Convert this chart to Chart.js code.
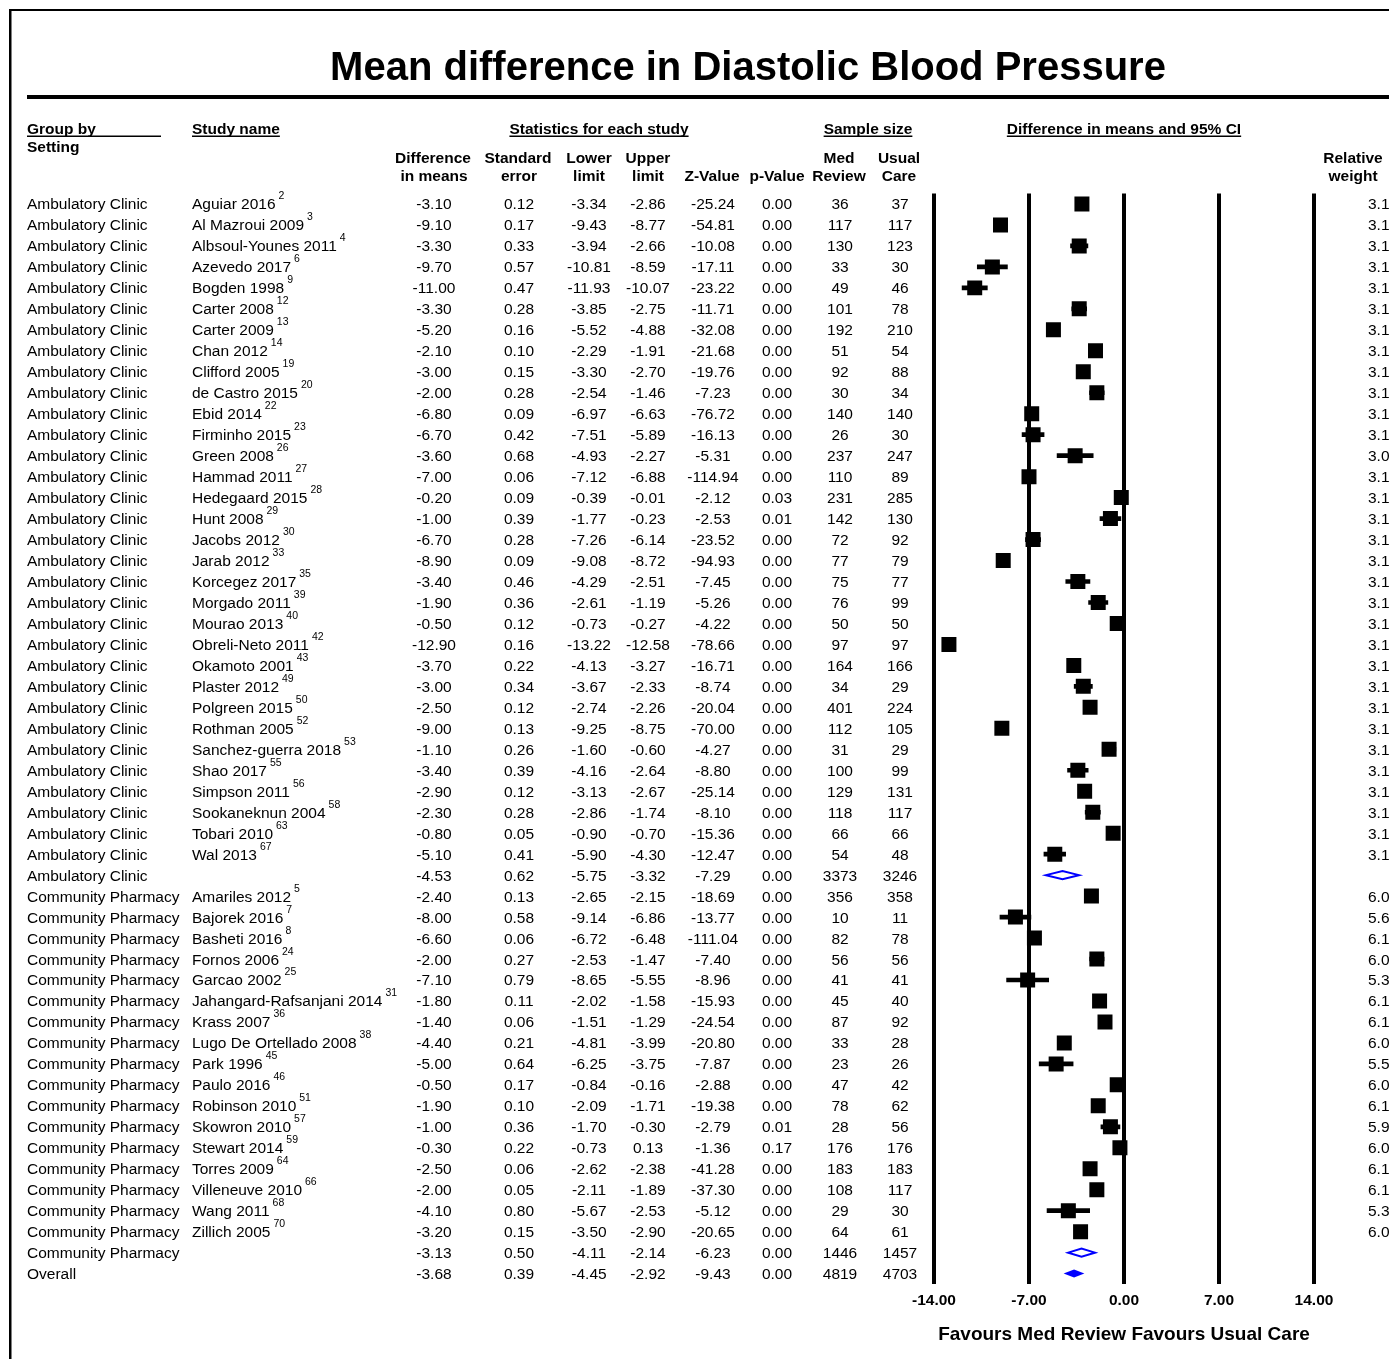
<!DOCTYPE html>
<html>
<head>
<meta charset="utf-8">
<title>Mean difference in Diastolic Blood Pressure</title>
<script src="https://cdn.jsdelivr.net/npm/chart.js@4.4.1/dist/chart.umd.min.js"></script>
<style>
  html, body { margin: 0; padding: 0; background: #fff; }
  canvas { display: block; }
</style>
</head>
<body>
<canvas id="forest" width="1389" height="1359"></canvas>
<script>
const FONT = '"Liberation Sans", Arial, Helvetica, sans-serif';

const groupNames = [
  ...Array(33).fill('Ambulatory Clinic'),
  ...Array(18).fill('Community Pharmacy'),
  'Overall'
];
const studyNames = [
  'Aguiar 2016', 'Al Mazroui 2009', 'Albsoul-Younes 2011', 'Azevedo 2017', 'Bogden 1998',
  'Carter 2008', 'Carter 2009', 'Chan 2012', 'Clifford 2005', 'de Castro 2015', 'Ebid 2014',
  'Firminho 2015', 'Green 2008', 'Hammad 2011', 'Hedegaard 2015', 'Hunt 2008', 'Jacobs 2012',
  'Jarab 2012', 'Korcegez 2017', 'Morgado 2011', 'Mourao 2013', 'Obreli-Neto 2011',
  'Okamoto 2001', 'Plaster 2012', 'Polgreen 2015', 'Rothman 2005', 'Sanchez-guerra 2018',
  'Shao 2017', 'Simpson 2011', 'Sookaneknun 2004', 'Tobari 2010', 'Wal 2013', '',
  'Amariles 2012', 'Bajorek 2016', 'Basheti 2016', 'Fornos 2006', 'Garcao 2002',
  'Jahangard-Rafsanjani 2014', 'Krass 2007', 'Lugo De Ortellado 2008', 'Park 1996',
  'Paulo 2016', 'Robinson 2010', 'Skowron 2010', 'Stewart 2014', 'Torres 2009',
  'Villeneuve 2010', 'Wang 2011', 'Zillich 2005', '', ''
];
const refNumbers = [
  '2', '3', '4', '6', '9', '12', '13', '14', '19', '20', '22', '23', '26', '27', '28', '29',
  '30', '33', '35', '39', '40', '42', '43', '49', '50', '52', '53', '55', '56', '58', '63', '67', '',
  '5', '7', '8', '24', '25', '31', '36', '38', '45', '46', '51', '57', '59', '64', '66', '68', '70', '', ''
];
// 'study' rows get a square + CI line, 'subtotal' a hollow diamond, 'overall' a filled diamond
const rowKinds = studyNames.map((s, i) => s ? 'study' : (i === studyNames.length - 1 ? 'overall' : 'subtotal'));

const diffs = [
  -3.10, -9.10, -3.30, -9.70, -11.00, -3.30, -5.20, -2.10, -3.00, -2.00, -6.80, -6.70, -3.60,
  -7.00, -0.20, -1.00, -6.70, -8.90, -3.40, -1.90, -0.50, -12.90, -3.70, -3.00, -2.50, -9.00,
  -1.10, -3.40, -2.90, -2.30, -0.80, -5.10, -4.53,
  -2.40, -8.00, -6.60, -2.00, -7.10, -1.80, -1.40, -4.40, -5.00, -0.50, -1.90, -1.00, -0.30,
  -2.50, -2.00, -4.10, -3.20, -3.13, -3.68
];
const stdErrs = [
  0.12, 0.17, 0.33, 0.57, 0.47, 0.28, 0.16, 0.10, 0.15, 0.28, 0.09, 0.42, 0.68, 0.06, 0.09,
  0.39, 0.28, 0.09, 0.46, 0.36, 0.12, 0.16, 0.22, 0.34, 0.12, 0.13, 0.26, 0.39, 0.12, 0.28,
  0.05, 0.41, 0.62,
  0.13, 0.58, 0.06, 0.27, 0.79, 0.11, 0.06, 0.21, 0.64, 0.17, 0.10, 0.36, 0.22, 0.06, 0.05,
  0.80, 0.15, 0.50, 0.39
];
const lowers = [
  -3.34, -9.43, -3.94, -10.81, -11.93, -3.85, -5.52, -2.29, -3.30, -2.54, -6.97, -7.51, -4.93,
  -7.12, -0.39, -1.77, -7.26, -9.08, -4.29, -2.61, -0.73, -13.22, -4.13, -3.67, -2.74, -9.25,
  -1.60, -4.16, -3.13, -2.86, -0.90, -5.90, -5.75,
  -2.65, -9.14, -6.72, -2.53, -8.65, -2.02, -1.51, -4.81, -6.25, -0.84, -2.09, -1.70, -0.73,
  -2.62, -2.11, -5.67, -3.50, -4.11, -4.45
];
const uppers = [
  -2.86, -8.77, -2.66, -8.59, -10.07, -2.75, -4.88, -1.91, -2.70, -1.46, -6.63, -5.89, -2.27,
  -6.88, -0.01, -0.23, -6.14, -8.72, -2.51, -1.19, -0.27, -12.58, -3.27, -2.33, -2.26, -8.75,
  -0.60, -2.64, -2.67, -1.74, -0.70, -4.30, -3.32,
  -2.15, -6.86, -6.48, -1.47, -5.55, -1.58, -1.29, -3.99, -3.75, -0.16, -1.71, -0.30, 0.13,
  -2.38, -1.89, -2.53, -2.90, -2.14, -2.92
];
const zValues = [
  -25.24, -54.81, -10.08, -17.11, -23.22, -11.71, -32.08, -21.68, -19.76, -7.23, -76.72, -16.13,
  -5.31, -114.94, -2.12, -2.53, -23.52, -94.93, -7.45, -5.26, -4.22, -78.66, -16.71, -8.74,
  -20.04, -70.00, -4.27, -8.80, -25.14, -8.10, -15.36, -12.47, -7.29,
  -18.69, -13.77, -111.04, -7.40, -8.96, -15.93, -24.54, -20.80, -7.87, -2.88, -19.38, -2.79,
  -1.36, -41.28, -37.30, -5.12, -20.65, -6.23, -9.43
];
const pValues = [
  0, 0, 0, 0, 0, 0, 0, 0, 0, 0, 0, 0, 0, 0, 0.03, 0.01, 0, 0, 0, 0, 0, 0, 0, 0, 0, 0, 0, 0,
  0, 0, 0, 0, 0,
  0, 0, 0, 0, 0, 0, 0, 0, 0, 0, 0, 0.01, 0.17, 0, 0, 0, 0, 0, 0
];
const medReviewN = [
  36, 117, 130, 33, 49, 101, 192, 51, 92, 30, 140, 26, 237, 110, 231, 142, 72, 77, 75, 76, 50,
  97, 164, 34, 401, 112, 31, 100, 129, 118, 66, 54, 3373,
  356, 10, 82, 56, 41, 45, 87, 33, 23, 47, 78, 28, 176, 183, 108, 29, 64, 1446, 4819
];
const usualCareN = [
  37, 117, 123, 30, 46, 78, 210, 54, 88, 34, 140, 30, 247, 89, 285, 130, 92, 79, 77, 99, 50,
  97, 166, 29, 224, 105, 29, 99, 131, 117, 66, 48, 3246,
  358, 11, 78, 56, 41, 40, 92, 28, 26, 42, 62, 56, 176, 183, 117, 30, 61, 1457, 4703
];
const weights = [
  3.1, 3.1, 3.1, 3.1, 3.1, 3.1, 3.1, 3.1, 3.1, 3.1, 3.1, 3.1, 3.0, 3.1, 3.1, 3.1, 3.1, 3.1,
  3.1, 3.1, 3.1, 3.1, 3.1, 3.1, 3.1, 3.1, 3.1, 3.1, 3.1, 3.1, 3.1, 3.1, null,
  6.0, 5.6, 6.1, 6.0, 5.3, 6.1, 6.1, 6.0, 5.5, 6.0, 6.1, 5.9, 6.0, 6.1, 6.1, 5.3, 6.0, null, null
];
const xTicks = [-14, -7, 0, 7, 14];

const rowLabels = studyNames.map((s, i) => s || groupNames[i]);

function f2(v) { return v.toFixed(2); }

const forestPlugin = {
  id: 'forestTable',
  beforeDraw(chart) {
    const ctx = chart.ctx;
    const xs = chart.scales.x;
    ctx.save();
    ctx.fillStyle = '#000';
    // frame + title rule
    ctx.fillRect(9, 9, 1380, 2);
    ctx.fillRect(9, 9, 2.5, 1350);
    ctx.fillRect(27, 95, 1362, 4);

    ctx.textBaseline = 'alphabetic';
    ctx.textAlign = 'center';
    ctx.font = `bold 40px ${FONT}`;
    ctx.fillText('Mean difference in Diastolic Blood Pressure', 748, 79.5);

    ctx.font = `bold 15.5px ${FONT}`;
    const underlined = (txt, x, y, align, endX) => {
      ctx.textAlign = align;
      ctx.fillText(txt, x, y);
      const w = ctx.measureText(txt).width;
      const x0 = align === 'center' ? x - w / 2 : x;
      ctx.fillRect(x0, y + 2, (endX || x0 + w) - x0, 1.5);
    };
    underlined('Group by', 27, 133.5, 'left', 161);
    underlined('Study name', 192, 133.5, 'left');
    underlined('Statistics for each study', 599, 133.5, 'center');
    underlined('Sample size', 868, 133.5, 'center');
    underlined('Difference in means and 95% CI', (xs.left + xs.right) / 2, 133.5, 'center');
    ctx.textAlign = 'left';
    ctx.fillText('Setting', 27, 151.5);

    ctx.textAlign = 'center';
    const head2 = [['Difference', 433], ['Standard', 518], ['Lower', 589], ['Upper', 648],
      ['Med', 839], ['Usual', 899], ['Relative', 1353]];
    const head3 = [['in means', 434], ['error', 519], ['limit', 589], ['limit', 648],
      ['Z-Value', 712], ['p-Value', 777], ['Review', 839], ['Care', 899], ['weight', 1353]];
    head2.forEach(([t, x]) => ctx.fillText(t, x, 162.5));
    head3.forEach(([t, x]) => ctx.fillText(t, x, 180.5));
    ctx.restore();
  },
  afterDatasetsDraw(chart) {
    const ctx = chart.ctx;
    const xs = chart.scales.x, ys = chart.scales.y;
    ctx.save();
    rowKinds.forEach((kind, i) => {
      if (kind === 'study') return;
      const y = ys.getPixelForValue(i);
      const xl = xs.getPixelForValue(lowers[i]);
      const xc = xs.getPixelForValue(diffs[i]);
      const xr = xs.getPixelForValue(uppers[i]);
      ctx.beginPath();
      ctx.moveTo(xl, y);
      ctx.lineTo(xc, y - 4);
      ctx.lineTo(xr, y);
      ctx.lineTo(xc, y + 4);
      ctx.closePath();
      if (kind === 'overall') {
        ctx.fillStyle = '#0000ff';
        ctx.fill();
      } else {
        ctx.strokeStyle = '#0000ff';
        ctx.lineWidth = 2;
        ctx.stroke();
      }
    });
    ctx.restore();
  },
  afterDraw(chart) {
    const ctx = chart.ctx;
    const ys = chart.scales.y;
    ctx.save();
    ctx.fillStyle = '#000';
    ctx.textBaseline = 'alphabetic';
    const cols = [
      [i => f2(diffs[i]), 434], [i => f2(stdErrs[i]), 519], [i => f2(lowers[i]), 589],
      [i => f2(uppers[i]), 648], [i => f2(zValues[i]), 713], [i => f2(pValues[i]), 777],
      [i => String(medReviewN[i]), 840], [i => String(usualCareN[i]), 900]
    ];
    rowLabels.forEach((_, i) => {
      const y = ys.getPixelForValue(i);
      const base = y + 5.5;
      ctx.font = `15.5px ${FONT}`;
      ctx.textAlign = 'left';
      ctx.fillText(groupNames[i], 27, base);
      if (studyNames[i]) {
        ctx.fillText(studyNames[i], 192, base);
        const w = ctx.measureText(studyNames[i]).width;
        ctx.font = `10.5px ${FONT}`;
        ctx.fillText(refNumbers[i], 192 + w + 3, y - 4.5);
        ctx.font = `15.5px ${FONT}`;
      }
      ctx.textAlign = 'center';
      cols.forEach(([fn, x]) => ctx.fillText(fn(i), x, base));
      if (weights[i] !== null) {
        ctx.textAlign = 'left';
        ctx.fillText(weights[i].toFixed(1), 1368, base);
      }
    });
    ctx.restore();
  }
};

new Chart(document.getElementById('forest'), {
  type: 'bar',
  data: {
    labels: rowLabels,
    datasets: [
      {
        type: 'line',
        label: 'Difference in means',
        data: diffs.map((d, i) => rowKinds[i] === 'study' ? d : null),
        showLine: false,
        pointStyle: 'rect',
        pointRadius: 10.6,
        pointHoverRadius: 10.6,
        pointBorderWidth: 0,
        backgroundColor: '#000',
        borderColor: '#000',
        order: 0
      },
      {
        type: 'bar',
        label: '95% CI',
        data: lowers.map((lo, i) => rowKinds[i] === 'study' ? [lo, uppers[i]] : null),
        backgroundColor: '#000',
        borderWidth: 0,
        barThickness: 4,
        order: 1
      }
    ]
  },
  options: {
    indexAxis: 'y',
    responsive: false,
    animation: false,
    layout: { padding: { left: 934, right: 75, top: 193.5, bottom: 13 } },
    plugins: { legend: { display: false }, tooltip: { enabled: false }, title: { display: false } },
    scales: {
      x: {
        type: 'linear',
        min: -14,
        max: 14,
        afterBuildTicks: scale => { scale.ticks = xTicks.map(v => ({ value: v })); },
        ticks: {
          callback: v => f2(v),
          color: '#000',
          font: { family: FONT, size: 15.5, weight: 'bold' },
          padding: 7,
          maxRotation: 0,
          autoSkip: false
        },
        grid: { color: '#000', lineWidth: 4, drawTicks: false },
        border: { display: false },
        title: {
          display: true,
          text: 'Favours Med Review Favours Usual Care',
          color: '#000',
          font: { family: FONT, size: 19, weight: 'bold' },
          padding: { top: 6.5, bottom: 0 }
        }
      },
      y: {
        type: 'category',
        offset: true,
        display: false,
        grid: { display: false }
      }
    }
  },
  plugins: [forestPlugin]
});
</script>
</body>
</html>
